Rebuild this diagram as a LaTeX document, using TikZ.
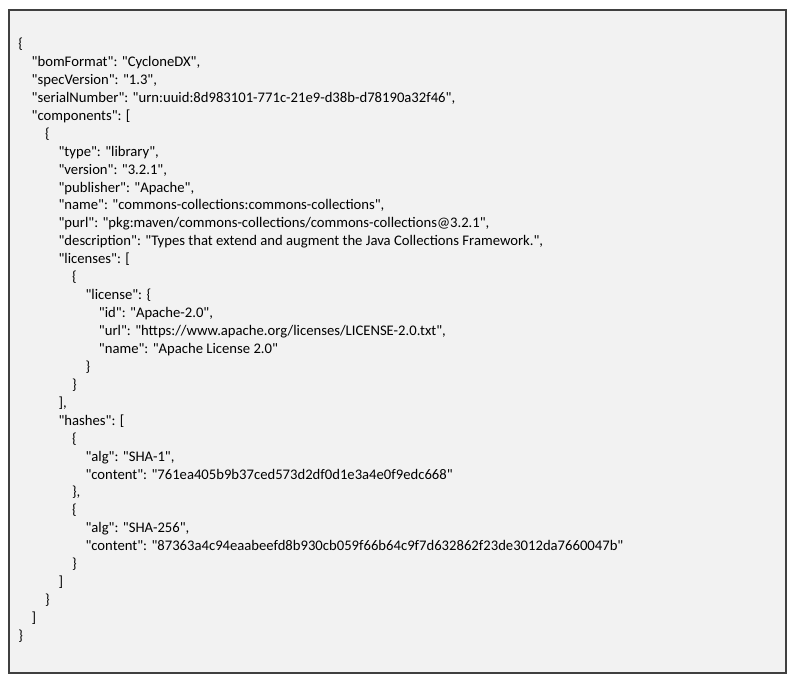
\documentclass[tikz,border=0pt]{standalone}
\usepackage{fontspec}
\setmainfont{Carlito}[Ligatures=TeXOff]
\definecolor{bg}{HTML}{F2F2F2}
\definecolor{frame}{HTML}{404040}
\begin{document}
\begin{tikzpicture}[x=0.75pt,y=-0.75pt,
  codeline/.style={anchor=base west,inner sep=0pt,font=\fontsize{11}{13}\selectfont,text=black}]
\useasboundingbox (0,0) rectangle (794,684);
\draw[frame,fill=bg,line width=0.8pt] (9,10) rectangle (786,673);
\newcounter{ln}
\def\L#1#2{\stepcounter{ln}\node[codeline] (l\theln) at ({18+13.45*#1},{48.5+17.94*(\value{ln}-1)}) {#2};}
\L0{\{}
\L1{"bomFormat": "CycloneDX",}
\L1{"specVersion": "1.3",}
\L1{"serialNumber": "urn:uuid:8d983101-771c-21e9-d38b-d78190a32f46",}
\L1{"components": [}
\L2{\{}
\L3{"type": "library",}
\L3{"version": "3.2.1",}
\L3{"publisher": "Apache",}
\L3{"name": "commons-collections:commons-collections",}
\L3{"purl": "pkg:maven/commons-collections/commons-collections@3.2.1",}
\L3{"description": "Types that extend and augment the Java Collections Framework.",}
\L3{"licenses": [}
\L4{\{}
\L5{"license": \{}
\L6{"id": "Apache-2.0",}
\L6{"url": "https://www.apache.org/licenses/LICENSE-2.0.txt",}
\L6{"name": "Apache License 2.0"}
\L5{\}}
\L4{\}}
\L3{],}
\L3{"hashes": [}
\L4{\{}
\L5{"alg": "SHA-1",}
\L5{"content": "761ea405b9b37ced573d2df0d1e3a4e0f9edc668"}
\L4{\},}
\L4{\{}
\L5{"alg": "SHA-256",}
\L5{"content": "87363a4c94eaabeefd8b930cb059f66b64c9f7d632862f23de3012da7660047b"}
\L4{\}}
\L3{]}
\L2{\}}
\L1{]}
\L0{\}}
\end{tikzpicture}
\end{document}
